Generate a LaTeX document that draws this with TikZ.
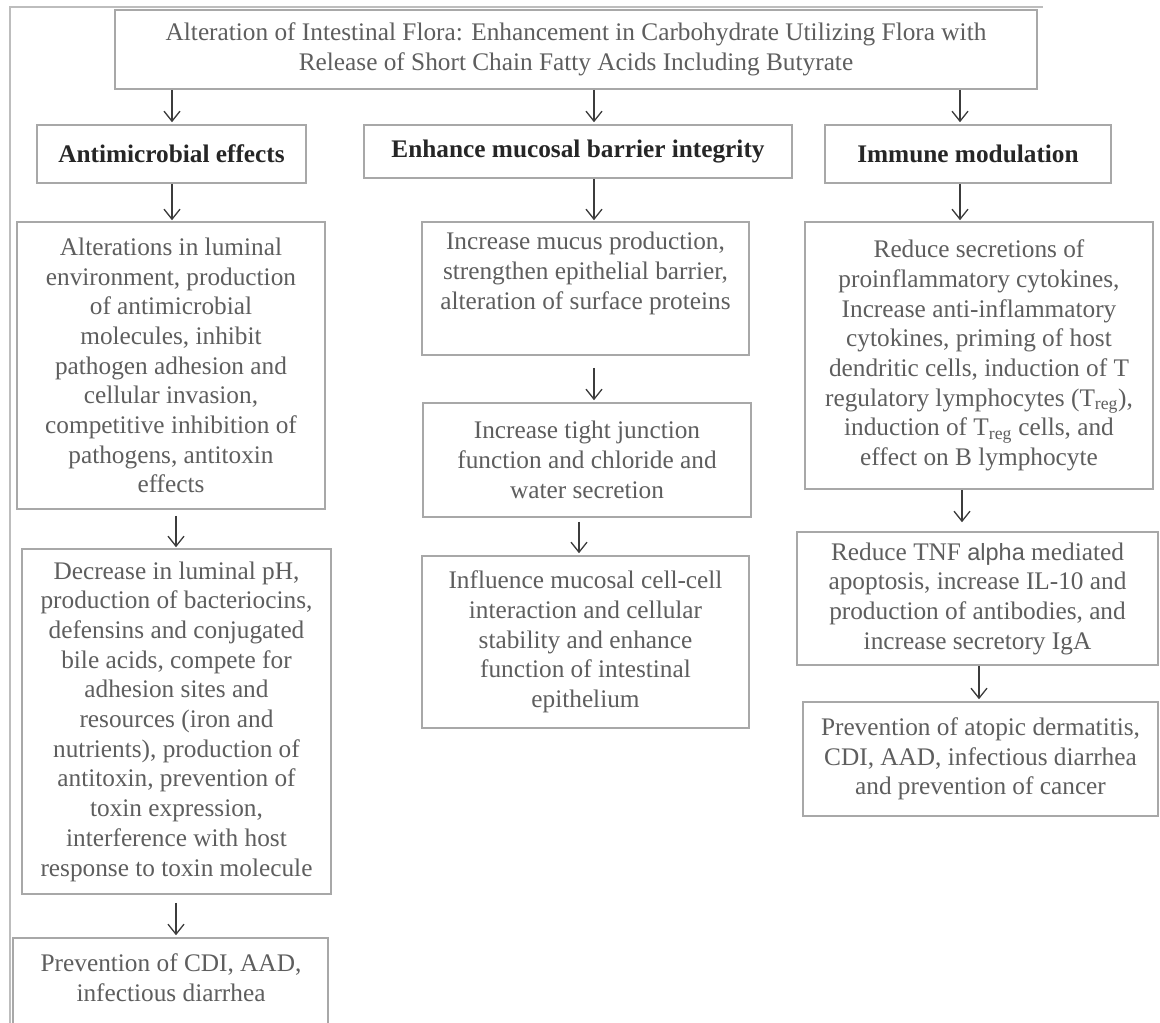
\documentclass[tikz,border=0pt]{standalone}
\usepackage{fontspec}
\setmainfont{Liberation Serif}
\setsansfont{Liberation Sans}
\usetikzlibrary{arrows.meta}
\definecolor{boxgray}{HTML}{A8A8A8}
\definecolor{txtgray}{HTML}{5E5E5E}
\definecolor{headc}{HTML}{262626}
\definecolor{arrc}{HTML}{3C3C3C}
\definecolor{framec}{HTML}{BDBDBD}
\begin{document}
\begin{tikzpicture}[x=1pt,y=-1pt,
  box/.style={draw=boxgray, line width=1.6pt, inner sep=0pt, align=center, text=txtgray, font=\fontsize{25.3}{29.7}\selectfont},
  head/.style={box, text=headc, font=\fontsize{25.3}{29.7}\selectfont\bfseries},
  txt/.style={inner sep=0pt, align=center, text=txtgray, font=\fontsize{25.3}{29.7}\selectfont},
  conn/.style={draw=arrc, line width=1.3pt, -{Straight Barb[length=10pt,width=16pt]}},
  frame/.style={draw=framec, line width=1.2pt}]
\path[use as bounding box] (0,0) rectangle (1160,1023);
\fill[white] (0,0) rectangle (1160,1023);
\clip (0,0) rectangle (1160,1023);
\draw[frame] (10,1030) -- (10,7) -- (1043,7);

% column x positions for arrows
\coordinate (xa) at (172,0);
\coordinate (xb) at (176,0);
\coordinate (xc) at (594,0);
\coordinate (xd) at (579,0);
\coordinate (xe) at (960,0);
\coordinate (xf) at (962,0);
\coordinate (xg) at (979,0);

\node[box, minimum width=922pt, minimum height=79pt] (top) at (576,49.5)
  {Alteration of Intestinal Flora: Enhancement in Carbohydrate Utilizing Flora with\\
   Release of Short Chain Fatty Acids Including Butyrate};

\node[head, minimum width=269pt, minimum height=58pt] (h1) at (171.5,154) {Antimicrobial effects};
\node[head, minimum width=428pt, minimum height=53pt] (h2) at (578,151.5) {Enhance mucosal barrier integrity};
\node[head, minimum width=286pt, minimum height=58pt] (h3) at (968,154) {Immune modulation};

\node[box, minimum width=308pt, minimum height=287pt] (a1) at (171,365.5)
  {Alterations in luminal\\ environment, production\\ of antimicrobial\\ molecules, inhibit\\
   pathogen adhesion and\\ cellular invasion,\\ competitive inhibition of\\ pathogens, antitoxin\\ effects};
\node[box, minimum width=309pt, minimum height=345pt] (a2) at (176.5,721.5)
  {Decrease in luminal pH,\\ production of bacteriocins,\\ defensins and conjugated\\ bile acids, compete for\\
   adhesion sites and\\ resources (iron and\\ nutrients), production of\\ antitoxin, prevention of\\
   toxin expression,\\ interference with host\\ response to toxin molecule};
\node[box, minimum width=315pt, minimum height=122pt] (a3) at (170.5,999) {};
\node[txt] (a3t) at (171,978) {Prevention of CDI, AAD,\\ infectious diarrhea};

\node[box, minimum width=327pt, minimum height=133pt] (b1) at (585.5,288.5) {};
\node[txt] (b1t) at (585.5,273.5) {Increase mucus production,\\ strengthen epithelial barrier,\\ alteration of surface proteins};
\node[box, minimum width=328pt, minimum height=114pt] (b2) at (587,460)
  {Increase tight junction\\ function and chloride and\\ water secretion};
\node[box, minimum width=327pt, minimum height=172pt] (b3) at (585.5,642)
  {Influence mucosal cell-cell\\ interaction and cellular\\ stability and enhance\\ function of intestinal\\ epithelium};

\node[box, minimum width=348pt, minimum height=267pt] (c1) at (979,355.5)
  {Reduce secretions of\\ proinflammatory cytokines,\\ Increase anti-inflammatory\\ cytokines, priming of host\\
   dendritic cells, induction of T\\ regulatory lymphocytes (T\textsubscript{reg}),\\
   induction of T\textsubscript{reg} cells, and\\ effect on B lymphocyte};
\node[box, minimum width=361pt, minimum height=133pt] (c2) at (977.5,598.5)
  {Reduce TNF {\sffamily\fontsize{23.5}{29.7}\selectfont alpha} mediated\\ apoptosis, increase IL-10 and\\ production of antibodies, and\\ increase secretory IgA};
\node[box, minimum width=355pt, minimum height=114pt] (c3) at (980.5,759)
  {Prevention of atopic dermatitis,\\ CDI, AAD, infectious diarrhea\\ and prevention of cancer};

% connectors
\draw[conn, shorten >=2pt] (top.south -| xa) -- (h1.north -| xa);
\draw[conn, shorten >=2pt] (top.south -| xc) -- (h2.north -| xc);
\draw[conn, shorten >=2pt] (top.south -| xe) -- (h3.north -| xe);
\draw[conn, shorten >=1pt] (h1.south -| xa) -- (a1.north -| xa);
\draw[conn, shorten <=6pt, shorten >=1pt] (a1.south -| xb) -- (a2.north -| xb);
\draw[conn, shorten <=8pt, shorten >=2pt] (a2.south -| xb) -- (a3.north -| xb);
\draw[conn, shorten >=1pt] (h2.south -| xc) -- (b1.north -| xc);
\draw[conn, shorten <=12pt, shorten >=2pt] (b1.south -| xc) -- (b2.north -| xc);
\draw[conn, shorten <=4pt, shorten >=2pt] (b2.south -| xd) -- (b3.north -| xd);
\draw[conn, shorten >=1pt] (h3.south -| xe) -- (c1.north -| xe);
\draw[conn, shorten >=9pt] (c1.south -| xf) -- (c2.north -| xf);
\draw[conn, shorten >=2pt] (c2.south -| xg) -- (c3.north -| xg);
\end{tikzpicture}
\end{document}
